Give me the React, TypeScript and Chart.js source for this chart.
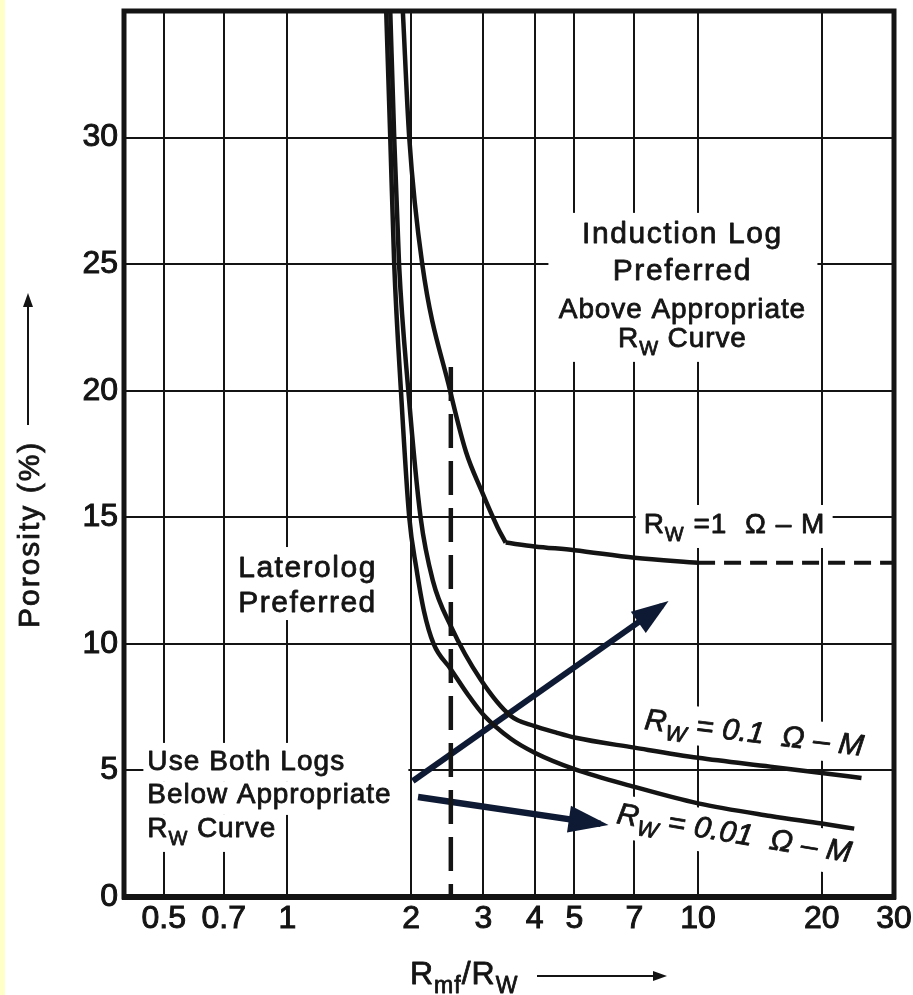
import React, { useEffect, useRef } from "react";
import { Chart, registerables } from "chart.js";

Chart.register(...registerables);

// ---------------- data ----------------
const xTicks = [0.5, 0.7, 1, 2, 3, 4, 5, 7, 10, 20, 30];
const xTickLabels = ["0.5", "0.7", "1", "2", "3", "4", "5", "7", "10", "20", "30"];
const yTicks = [0, 5, 10, 15, 20, 25, 30];
const yTickLabels = ["0", "5", "10", "15", "20", "25", "30"];

// Rw = 0.01 ohm-m curve
const rw001X = [1.74, 1.78, 1.82, 1.89, 1.98, 2.06, 2.15, 2.27, 2.5, 2.75, 3.0, 3.5, 4.0, 5.0, 7.0, 10.0, 15.0, 20.0, 24.0];
const rw001Y = [35, 30, 25, 20, 15, 13, 11.3, 10.0, 9.0, 8.0, 7.2, 6.25, 5.7, 5.05, 4.35, 3.7, 3.2, 2.9, 2.7];

// Rw = 0.1 ohm-m curve
const rw01X = [1.78, 1.82, 1.87, 1.97, 2.11, 2.26, 2.5, 2.96, 3.5, 4.0, 4.5, 5.0, 7.0, 10.0, 15.0, 20.0, 25.0];
const rw01Y = [35, 30, 25, 20, 15, 12.5, 10.7, 8.57, 7.15, 6.75, 6.5, 6.3, 5.9, 5.5, 5.15, 4.9, 4.7];

// Rw = 1 ohm-m curve (steep part, flat part, dashed extension)
const rw1SteepX = [1.91, 1.98, 2.13, 2.49, 2.72, 2.96, 3.25, 3.4];
const rw1SteepY = [35, 30, 25, 20, 17.6, 16.1, 14.6, 14.0];
const rw1FlatX = [3.4, 4.0, 5.0, 7.0, 10.0];
const rw1FlatY = [14.0, 13.85, 13.7, 13.4, 13.2];
const rw1ExtX = [10, 30];
const rw1ExtY = [13.2, 13.2];

// dashed vertical cut-off at Rmf/Rw = 2.5
const cutoffX = [2.5, 2.5];
const cutoffY = [20.94, 0];

// navy arrows
const arrowUpX = [2.02, 8.17];
const arrowUpY = [4.58, 11.51];
const arrowDownX = [2.08, 5.79];
const arrowDownY = [3.95, 2.89];

// ---------------- styles ----------------
const FONT = "'Liberation Sans', Arial, Helvetica, sans-serif";
const INK = "#141414";
const NAVY = "#0e1a33";
const TEXT_STROKE = 0.8;

type Seg = { t: string; sub?: boolean };
type Line = { segs: Seg[]; size: number; dy: number; sp: number };
type Block = {
  x: number;
  y: number;
  align: "left" | "center";
  rot?: number;
  italic?: boolean;
  boxes: number[][];
  lines: Line[];
};

const blocks: Block[] = [
  {
    x: 9.16, y: 25.84, align: "center",
    boxes: [[-134, -30, 135, 119]],
    lines: [
      { segs: [{ t: "Induction Log" }], size: 30, dy: 0, sp: 1.6 },
      { segs: [{ t: "Preferred" }], size: 30, dy: 37, sp: 1.6 },
      { segs: [{ t: "Above Appropriate" }], size: 28, dy: 75, sp: 0.9 },
      { segs: [{ t: "R" }, { t: "W", sub: true }, { t: " Curve" }], size: 28, dy: 104, sp: 0.9 },
    ],
  },
  {
    x: 0.759, y: 12.64, align: "left",
    boxes: [[-5, -30, 147, 43]],
    lines: [
      { segs: [{ t: "Laterolog" }], size: 30, dy: 0, sp: 1.5 },
      { segs: [{ t: "Preferred" }], size: 30, dy: 35, sp: 1.5 },
    ],
  },
  {
    x: 0.456, y: 5.02, align: "left",
    boxes: [[-4, -27, 261, 12], [-4, 12, 261, 45], [-4, 45, 134, 82]],
    lines: [
      { segs: [{ t: "Use Both Logs" }], size: 28, dy: 0, sp: 1.1 },
      { segs: [{ t: "Below Appropriate" }], size: 28, dy: 33, sp: 0.9 },
      { segs: [{ t: "R" }, { t: "W", sub: true }, { t: " Curve" }], size: 28, dy: 67, sp: 0.9 },
    ],
  },
  {
    x: 7.37, y: 14.38, align: "left",
    boxes: [[-8, -28, 189, 15]],
    lines: [{ segs: [{ t: "R" }, { t: "W", sub: true }, { t: " =1  \u03A9 \u2013 M" }], size: 28, dy: 0, sp: 1.0 }],
  },
  {
    x: 7.37, y: 6.64, align: "left", rot: 7, italic: true,
    boxes: [[-6, -29, 228, 10]],
    lines: [{ segs: [{ t: "R" }, { t: "W", sub: true }, { t: " = 0.1  \u03A9 \u2013 M" }], size: 30, dy: 0, sp: 0.3 }],
  },
  {
    x: 6.3, y: 2.92, align: "left", rot: 9.5, italic: true,
    boxes: [[-6, -29, 246, 14]],
    lines: [{ segs: [{ t: "R" }, { t: "W", sub: true }, { t: " = 0.01  \u03A9 \u2013 M" }], size: 30, dy: 0, sp: 0.3 }],
  },
];

function fontStr(size: number, italic?: boolean) {
  return `${italic ? "italic " : ""}${size}px ${FONT}`;
}

function drawSegs(
  ctx: CanvasRenderingContext2D,
  segs: Seg[],
  x: number,
  y: number,
  size: number,
  italic: boolean | undefined,
  spacing: number,
  align: "left" | "center"
) {
  (ctx as any).letterSpacing = spacing + "px";
  const subSize = Math.round(size * 0.72);
  const widths = segs.map((s) => {
    ctx.font = fontStr(s.sub ? subSize : size, italic);
    return ctx.measureText(s.t).width;
  });
  const total = widths.reduce((a, b) => a + b, 0);
  let cx = align === "center" ? x - total / 2 : x;
  ctx.textAlign = "left";
  ctx.textBaseline = "alphabetic";
  ctx.lineWidth = TEXT_STROKE;
  ctx.lineJoin = "round";
  segs.forEach((s, i) => {
    ctx.font = fontStr(s.sub ? subSize : size, italic);
    const yy = s.sub ? y + size * 0.28 : y;
    ctx.strokeText(s.t, cx, yy);
    ctx.fillText(s.t, cx, yy);
    cx += widths[i];
  });
}

function arrowHead(ctx: CanvasRenderingContext2D, tx: number, ty: number, ux: number, uy: number, len: number, hw: number) {
  const bx = tx - ux * len;
  const by = ty - uy * len;
  ctx.beginPath();
  ctx.moveTo(tx, ty);
  ctx.lineTo(bx - uy * hw, by + ux * hw);
  ctx.lineTo(bx + uy * hw, by - ux * hw);
  ctx.closePath();
  ctx.fill();
}

const chartPlugin = {
  id: "porosityDecor",
  beforeDraw(chart: any) {
    const { ctx, width, height } = chart;
    ctx.save();
    ctx.fillStyle = "#ffffff";
    ctx.fillRect(0, 0, width, height);
    ctx.fillStyle = "#ffffc8";
    ctx.fillRect(0, 0, 5, height);
    ctx.restore();
  },
  beforeDatasetsDraw(chart: any) {
    const { ctx, chartArea } = chart;
    const xs = chart.scales.x;
    const ys = chart.scales.y;
    ctx.save();
    blocks.forEach((b) => {
      const px = xs.getPixelForValue(b.x);
      const py = ys.getPixelForValue(b.y);
      ctx.save();
      ctx.translate(px, py);
      if (b.rot) ctx.rotate((b.rot * Math.PI) / 180);
      ctx.fillStyle = "#ffffff";
      b.boxes.forEach(([l, t, r, bt]) => ctx.fillRect(l, t, r - l, bt - t));
      ctx.fillStyle = INK;
      ctx.strokeStyle = INK;
      b.lines.forEach((ln) => drawSegs(ctx, ln.segs, 0, ln.dy, ln.size, b.italic, ln.sp, b.align));
      ctx.restore();
    });
    // frame
    ctx.strokeStyle = INK;
    ctx.lineWidth = 5;
    ctx.strokeRect(chartArea.left, chartArea.top, chartArea.right - chartArea.left, chartArea.bottom - chartArea.top);
    ctx.lineWidth = 6;
    ctx.beginPath();
    ctx.moveTo(chartArea.left - 2, chartArea.bottom);
    ctx.lineTo(chartArea.right + 2, chartArea.bottom);
    ctx.stroke();
    ctx.restore();
  },
  afterDatasetsDraw(chart: any) {
    const { ctx } = chart;
    ctx.save();
    ctx.fillStyle = NAVY;
    const specs = [
      { idx: 6, ext: 8, len: 37, hw: 13 },
      { idx: 7, ext: 8, len: 40, hw: 13.5 },
    ];
    specs.forEach(({ idx, ext, len, hw }) => {
      const meta = chart.getDatasetMeta(idx);
      const p0 = meta.data[0];
      const p1 = meta.data[1];
      const dx = p1.x - p0.x;
      const dy = p1.y - p0.y;
      const d = Math.hypot(dx, dy);
      const ux = dx / d;
      const uy = dy / d;
      arrowHead(ctx, p1.x + ux * ext, p1.y + uy * ext, ux, uy, len, hw);
    });
    ctx.restore();
  },
  afterDraw(chart: any) {
    const { ctx } = chart;
    ctx.save();
    ctx.fillStyle = INK;
    ctx.strokeStyle = INK;
    // y axis title
    ctx.save();
    ctx.translate(31, 628);
    ctx.rotate(-Math.PI / 2);
    (ctx as any).letterSpacing = "2px";
    ctx.font = fontStr(30);
    ctx.textAlign = "left";
    ctx.textBaseline = "middle";
    ctx.lineWidth = TEXT_STROKE;
    ctx.strokeText("Porosity (%)", 0, 0);
    ctx.fillText("Porosity (%)", 0, 0);
    ctx.restore();
    ctx.lineWidth = 2;
    ctx.beginPath();
    ctx.moveTo(28, 425);
    ctx.lineTo(28, 305);
    ctx.stroke();
    arrowHead(ctx, 28, 293, 0, -1, 14, 5);
    // x axis title
    drawSegs(
      ctx,
      [{ t: "R" }, { t: "mf", sub: true }, { t: "/R" }, { t: "W", sub: true }],
      410, 984, 32, false, 1, "left"
    );
    ctx.lineWidth = 2;
    ctx.beginPath();
    ctx.moveTo(537, 976);
    ctx.lineTo(655, 976);
    ctx.stroke();
    arrowHead(ctx, 667, 976, 1, 0, 14, 5);
    ctx.restore();
  },
};

const toPoints = (xs: number[], ys: number[]) => xs.map((x, i) => ({ x, y: ys[i] }));

const curve = (label: string, xs: number[], ys: number[], extra: any = {}) => ({
  label,
  data: toPoints(xs, ys),
  showLine: true,
  pointRadius: 0,
  pointHoverRadius: 0,
  borderColor: INK,
  borderWidth: 4.5,
  fill: false,
  ...extra,
});

export default function App() {
  const ref = useRef<HTMLCanvasElement | null>(null);

  useEffect(() => {
    const canvas = ref.current;
    if (!canvas) return;
    const tickFont = { family: FONT, size: 32 };
    const chart = new Chart(canvas, {
      type: "scatter",
      data: {
        datasets: [
          curve("Rw = 0.01 \u03A9-M", rw001X, rw001Y, { cubicInterpolationMode: "monotone" }),
          curve("Rw = 0.1 \u03A9-M", rw01X, rw01Y, { cubicInterpolationMode: "monotone" }),
          curve("Rw = 1 \u03A9-M", rw1SteepX, rw1SteepY, { cubicInterpolationMode: "monotone" }),
          curve("Rw = 1 \u03A9-M (flat)", rw1FlatX, rw1FlatY, { cubicInterpolationMode: "monotone" }),
          curve("Rw = 1 \u03A9-M (extension)", rw1ExtX, rw1ExtY, { borderDash: [17, 9], borderWidth: 4 }),
          curve("Cut-off", cutoffX, cutoffY, { borderDash: [34, 13] }),
          curve("Arrow up", arrowUpX, arrowUpY, { borderColor: NAVY, borderWidth: 6 }),
          curve("Arrow down", arrowDownX, arrowDownY, { borderColor: NAVY, borderWidth: 6.5 }),
        ],
      } as any,
      options: {
        responsive: false,
        animation: false,
        devicePixelRatio: 1,
        events: [],
        layout: { padding: { left: 0, right: 19, top: 11, bottom: 0 } },
        plugins: {
          legend: { display: false },
          tooltip: { enabled: false },
          title: { display: false },
        },
        scales: {
          x: {
            type: "logarithmic",
            position: "bottom",
            min: 0.4,
            max: 30,
            afterBuildTicks: (s: any) => {
              s.ticks = xTicks.map((v) => ({ value: v }));
            },
            afterFit: (s: any) => {
              s.height = 98;
              s.paddingLeft = 0;
              s.paddingRight = 0;
            },
            ticks: {
              autoSkip: false,
              maxRotation: 0,
              minRotation: 0,
              padding: 3,
              color: INK,
              textStrokeColor: INK,
              textStrokeWidth: 1,
              font: tickFont,
              callback: (_v: any, i: number) => xTickLabels[i] ?? "",
            },
            grid: { color: INK, lineWidth: 2, drawTicks: false },
            border: { display: false },
          },
          y: {
            type: "linear",
            position: "left",
            min: 0,
            max: 35,
            afterBuildTicks: (s: any) => {
              s.ticks = yTicks.map((v) => ({ value: v }));
            },
            afterFit: (s: any) => {
              s.width = 124;
              s.paddingTop = 0;
              s.paddingBottom = 0;
            },
            ticks: {
              padding: 6,
              color: INK,
              textStrokeColor: INK,
              textStrokeWidth: 1,
              font: tickFont,
              callback: (_v: any, i: number) => yTickLabels[i] ?? "",
            },
            grid: { color: INK, lineWidth: 2, drawTicks: false },
            border: { display: false },
          },
        },
      } as any,
      plugins: [chartPlugin],
    });
    return () => chart.destroy();
  }, []);

  return (
    <div style={{ position: "fixed", left: 0, top: 0, width: 913, height: 995, background: "#fff" }}>
      <canvas ref={ref} width={913} height={995} style={{ display: "block", width: 913, height: 995 }} />
    </div>
  );
}
